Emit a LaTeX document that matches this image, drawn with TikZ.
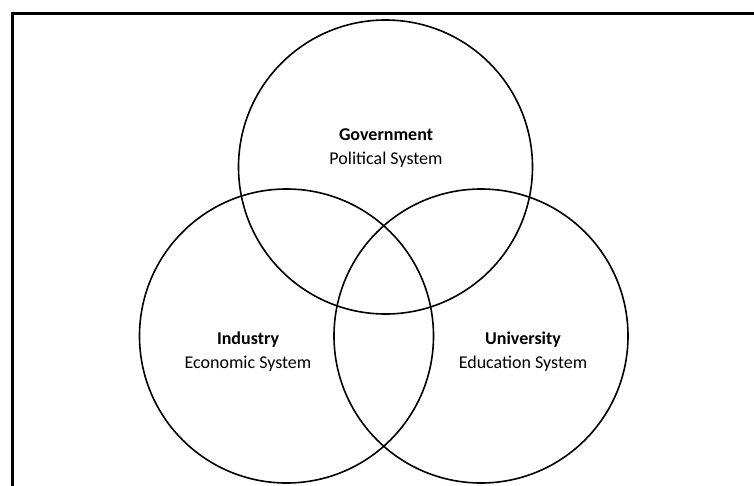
\documentclass[tikz,border=0pt]{standalone}
\usepackage{fontspec}
\setmainfont{Carlito}

\begin{document}
\begin{tikzpicture}[x=1pt,y=-1pt,
        sphere/.style={circle,draw,line width=1.6pt,minimum size=294pt,inner sep=0pt},
        helix/.style={align=center,font=\fontsize{18}{24}\selectfont}]
                \useasboundingbox (0,0) rectangle (754,485);
                \clip (0,0) rectangle (754,485);
                % frame, runs off the page on the right and bottom
                \draw[line width=3pt] (12.5,13.7) rectangle (820,560);
                \node[sphere] (gov) at (385.5,167) {};
                \node[sphere] (ind) at (286.5,336) {};
                \node[sphere] (uni) at (481,336) {};
                \node[helix] (govtext) at (386,148) {\textbf{Government}\\Political System};
                \node[helix] (indtext) at (248,352) {\textbf{Industry}\\Economic System};
                \node[helix] (unitext) at (523,352) {\textbf{University}\\Education System};
            \end{tikzpicture}
\end{document}
